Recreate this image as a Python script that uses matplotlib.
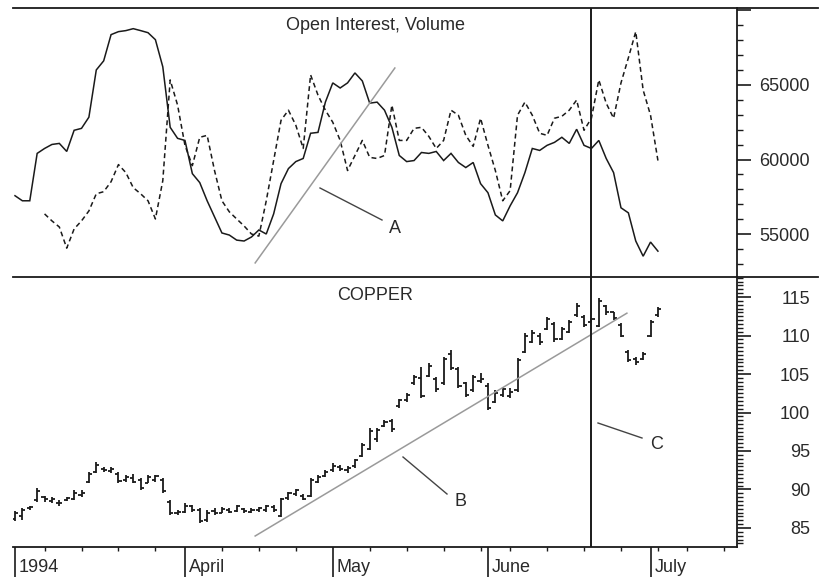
import matplotlib
matplotlib.use('Agg')
import matplotlib.pyplot as plt
from matplotlib.lines import Line2D
from matplotlib.ticker import FixedLocator, MultipleLocator, FuncFormatter, NullFormatter
import matplotlib.transforms as mtransforms
import numpy as np

plt.rcParams['font.family'] = ['Liberation Sans', 'DejaVu Sans']

# ---------------- data ----------------
month_ticks = [0, 23, 43, 64, 86]
month_labels = ['1994', 'April', 'May', 'June', 'July']
week_ticks = [4, 9, 14, 19, 28, 33, 38, 48, 53, 58, 63, 67, 72, 77, 82, 87, 91, 96]

open_interest = [
    57570, 57230, 57230, 60410, 60740, 61010, 61080, 60540, 61960, 62090,
    62840, 66010, 66620, 68380, 68580, 68650, 68780, 68650, 68510, 68040,
    66220, 62160, 61420, 61280, 59050, 58450, 57230, 56150, 55070, 54930,
    54590, 54530, 54800, 55270, 55000, 56350, 58380, 59390, 59860, 60070,
    61760, 61820, 63850, 65140, 64800, 65140, 65810, 65270, 63780, 63850,
    63310, 62160, 60270, 59860, 59930, 60470, 60410, 60540, 59930, 60410,
    59800, 59460, 59800, 58380, 57770, 56280, 55880, 56890, 57770, 59120,
    60740, 60610, 60950, 61150, 61490, 61080, 62030, 60950, 60740, 61280,
    60070, 59120, 56760, 56420, 54530, 53510, 54460, 53850,
]

volume_start = 4
volume = [
    56350, 55880, 55470, 54050, 55340, 55880, 56550, 57700, 57840, 58510,
    59660, 59120, 58110, 57700, 57230, 56010, 58580, 65340, 63650, 60950,
    59590, 61490, 61620, 59260, 57230, 56490, 56010, 55540, 55000, 54860,
    57230, 59930, 62630, 63310, 62300, 60740, 65680, 64320, 63310, 62500,
    61280, 59260, 60270, 61280, 60140, 60070, 60270, 63650, 61280, 61280,
    62090, 62160, 61550, 60740, 61280, 63310, 62970, 61620, 60880, 62770,
    60950, 59260, 57230, 57910, 62970, 63850, 62970, 61760, 61620, 62770,
    62900, 63310, 63990, 61960, 62770, 65340, 63780, 62770, 65140, 66820,
    68580, 64660, 62970, 59930,
]

price_open = [
    86.2, 86.5, 87.6, 88.6, 89.0, 88.5, 88.3, 88.6, 88.8, 89.3,
    91.0, 92.3, 92.6, 92.4, 92.0, 91.2, 91.5, 91.2, 90.9, 91.2,
    91.2, 88.4, 87.0, 87.1, 87.8, 87.3, 86.0, 87.2, 87.0, 87.4,
    87.2, 87.5, 87.1, 87.3, 87.4, 87.7, 86.6, 88.9, 89.4, 89.2,
    89.2, 91.0, 91.8, 92.5, 92.9, 92.5, 93.0, 94.4, 95.3, 96.5,
    98.3, 98.9, 100.8, 101.6, 103.8, 104.5, 104.8, 104.3, 103.8, 107.6,
    105.6, 103.8, 102.9, 104.1, 103.5, 101.4, 102.3, 102.2, 102.9, 107.8,
    109.2, 110.0, 110.9, 111.5, 109.6, 110.5, 112.6, 112.4, 111.8, 111.3,
    113.8, 113.0, 111.4, 107.9, 107.0, 106.9, 110.0, 112.6,
]
price_high = [
    87.2, 87.6, 87.9, 90.2, 89.1, 89.0, 88.6, 89.0, 89.9, 89.9,
    92.3, 93.6, 92.9, 92.9, 92.3, 91.9, 92.0, 91.5, 91.9, 91.9,
    91.5, 88.6, 87.3, 88.2, 88.0, 87.6, 87.3, 87.6, 87.7, 87.6,
    88.0, 87.6, 87.6, 87.7, 88.0, 88.0, 88.9, 89.7, 90.1, 89.4,
    91.5, 91.9, 92.5, 93.4, 93.2, 93.0, 94.0, 96.0, 98.0, 98.0,
    99.0, 99.2, 101.8, 102.5, 104.9, 105.9, 106.4, 104.6, 107.2, 108.1,
    105.9, 104.0, 104.9, 105.1, 103.8, 102.9, 103.3, 103.2, 107.1, 110.3,
    110.7, 110.3, 112.4, 111.8, 111.1, 112.0, 114.2, 112.7, 112.3, 114.9,
    114.0, 113.1, 111.6, 108.1, 107.2, 107.9, 112.0, 113.7,
]
price_low = [
    85.9, 86.0, 87.4, 88.4, 88.4, 88.2, 87.9, 88.5, 88.6, 89.0,
    90.8, 92.1, 92.3, 92.1, 90.8, 91.0, 90.8, 89.9, 90.8, 91.0,
    89.5, 86.7, 86.7, 86.9, 87.1, 85.6, 85.8, 86.7, 86.9, 86.9,
    87.1, 86.9, 86.9, 87.1, 87.1, 87.1, 86.4, 88.6, 89.2, 88.6,
    89.0, 90.8, 91.6, 92.3, 92.4, 92.2, 92.8, 94.2, 95.1, 96.2,
    98.1, 97.5, 100.6, 101.4, 103.6, 101.9, 104.6, 102.7, 103.6, 105.5,
    103.2, 102.0, 102.7, 103.8, 100.3, 101.2, 102.0, 101.9, 102.7, 107.7,
    109.0, 108.8, 110.7, 109.2, 109.4, 110.3, 112.4, 111.1, 111.7, 111.1,
    112.7, 112.0, 109.8, 106.6, 106.2, 106.8, 109.8, 112.4,
]
price_close = [
    86.9, 87.3, 87.7, 89.8, 88.7, 88.8, 88.2, 88.9, 89.6, 89.6,
    92.0, 93.2, 92.5, 92.7, 91.1, 91.6, 91.0, 90.2, 91.6, 91.7,
    89.8, 86.9, 87.1, 87.9, 87.3, 85.9, 87.0, 86.9, 87.5, 87.1,
    87.8, 87.2, 87.4, 87.6, 87.8, 87.3, 88.7, 89.5, 89.9, 88.8,
    91.2, 91.6, 92.3, 93.1, 92.6, 92.8, 93.8, 95.8, 97.6, 97.7,
    98.8, 97.8, 101.6, 102.3, 104.6, 102.2, 106.0, 103.0, 106.9, 105.8,
    103.5, 102.3, 104.6, 104.3, 100.6, 102.5, 103.0, 102.6, 106.8, 109.9,
    110.3, 109.1, 112.1, 109.5, 110.8, 111.7, 113.8, 111.4, 112.1, 114.5,
    113.0, 112.3, 110.0, 106.8, 106.5, 107.6, 111.7, 113.4,
]

# annotation geometry (bar index, value)
event_bar = 77.95
trend_a = ([32.5, 51.4], [53060, 66140])
trend_b = ([32.5, 82.8], [83.96, 112.9])

# ---------------- figure ----------------
W, H = 830, 580
fig = plt.figure(figsize=(W / 100, H / 100), dpi=100)
fig.patch.set_facecolor('white')

X0, X1 = 13, 737
Y_TOP, Y_MID, Y_BOT = 8, 277, 547
ax1 = fig.add_axes([X0 / W, 1 - Y_MID / H, (X1 - X0) / W, (Y_MID - Y_TOP) / H])
ax2 = fig.add_axes([X0 / W, 1 - Y_BOT / H, (X1 - X0) / W, (Y_BOT - Y_MID) / H])

ink = '#1a1a1a'
txt = '#2a2a2a'
xlim = (-0.27, 97.7)

# ---- top panel: open interest & volume ----
x_oi = np.arange(len(open_interest))
x_vol = np.arange(volume_start, volume_start + len(volume))
ax1.plot(x_oi, open_interest, color=ink, lw=1.1, solid_joinstyle='miter')
ax1.plot(x_vol, volume, color=ink, lw=1.1, linestyle=(0, (3.2, 2.2)))
ax1.plot(trend_a[0], trend_a[1], color='#9a9a9a', lw=1.1)
ax1.set_xlim(*xlim)
ax1.set_ylim(52115, 70167)

# ---- bottom panel: copper OHLC ----
xb = np.arange(len(price_high))
ax2.vlines(xb, price_low, price_high, color=ink, lw=1.3)
ax2.hlines(price_open, xb - 0.42, xb, color=ink, lw=1.3)
ax2.hlines(price_close, xb, xb + 0.42, color=ink, lw=1.3)
ax2.plot(trend_b[0], trend_b[1], color='#9a9a9a', lw=1.1)
ax2.set_xlim(*xlim)
ax2.set_ylim(82.53, 117.6)

for ax in (ax1, ax2):
    ax.axvline(event_bar, color=ink, lw=1.4)
    for s in ('left', 'top', 'bottom'):
        ax.spines[s].set_visible(False)
    ax.spines['right'].set_color(ink)
    ax.spines['right'].set_linewidth(1.3)
    ax.yaxis.tick_right()
    ax.tick_params(axis='y', which='major', direction='out', length=10, width=1.2,
                   colors=ink, labelcolor=txt, labelsize=13, pad=42.5)
    ax.tick_params(axis='y', which='minor', direction='out', length=4, width=1.0, colors=ink)

ax2.spines['bottom'].set_visible(True)
ax2.spines['bottom'].set_color(ink)
ax2.spines['bottom'].set_linewidth(1.3)

# top y axis ticks
ax1.yaxis.set_major_locator(FixedLocator([55000, 60000, 65000, 70000]))
ax1.yaxis.set_major_formatter(FuncFormatter(lambda v, p: '' if v > 66000 else f'{int(v)}'))
ax1.yaxis.set_minor_locator(MultipleLocator(1000))
ax1.set_xticks([])

# bottom y axis ticks
ax2.yaxis.set_major_locator(FixedLocator([85, 90, 95, 100, 105, 110, 115]))
ax2.yaxis.set_major_formatter(FuncFormatter(lambda v, p: f'{int(v)}'))
ax2.yaxis.set_minor_locator(MultipleLocator(0.5))

for ax in (ax1, ax2):
    for t in ax.get_yticklabels():
        t.set_horizontalalignment('right')

# x axis ticks (bottom)
ax2.set_xticks(month_ticks)
ax2.set_xticklabels([''] * len(month_ticks))
ax2.set_xticks(week_ticks, minor=True)
ax2.tick_params(axis='x', which='major', direction='out', length=21.5, width=1.2, colors=ink)
ax2.tick_params(axis='x', which='minor', direction='out', length=3.2, width=1.0, colors=ink)
off = mtransforms.ScaledTranslation(4 / 100, 0, fig.dpi_scale_trans)
for m, lab in zip(month_ticks, month_labels):
    ax2.text(m, -20 / 270, lab, transform=ax2.get_xaxis_transform() + off,
             ha='left', va='center', fontsize=13, color=txt)

# titles
ax1.text(0.5, 1 - (30 - Y_TOP) / (Y_MID - Y_TOP), 'Open Interest, Volume', transform=ax1.transAxes,
         ha='center', va='baseline', fontsize=13, color=txt)
ax2.text(0.5, 1 - (300 - Y_MID) / (Y_BOT - Y_MID), 'COPPER', transform=ax2.transAxes,
         ha='center', va='baseline', fontsize=13, color=txt)

# long horizontal frame lines
def fline(x0, y0, x1, y1, color=ink, lw=1.3):
    fig.add_artist(Line2D([x0 / W, x1 / W], [1 - y0 / H, 1 - y1 / H],
                          transform=fig.transFigure, color=color, lw=lw))

fline(13, Y_TOP, 818, Y_TOP)
fline(13, Y_MID, 818, Y_MID)

# annotation leaders and letters
lead = '#444444'
fline(320, 188, 382, 220, color=lead, lw=1.0)
fline(403, 457, 447, 494, color=lead, lw=1.0)
fline(598, 423, 642, 438, color=lead, lw=1.0)
for (x, y, s) in [(395, 233, 'A'), (460, 506, 'B'), (657, 449, 'C')]:
    fig.text(x / W, 1 - y / H, s, ha='center', va='baseline', fontsize=13, color=txt)

fig.savefig('out.png', dpi=100, facecolor='white')
